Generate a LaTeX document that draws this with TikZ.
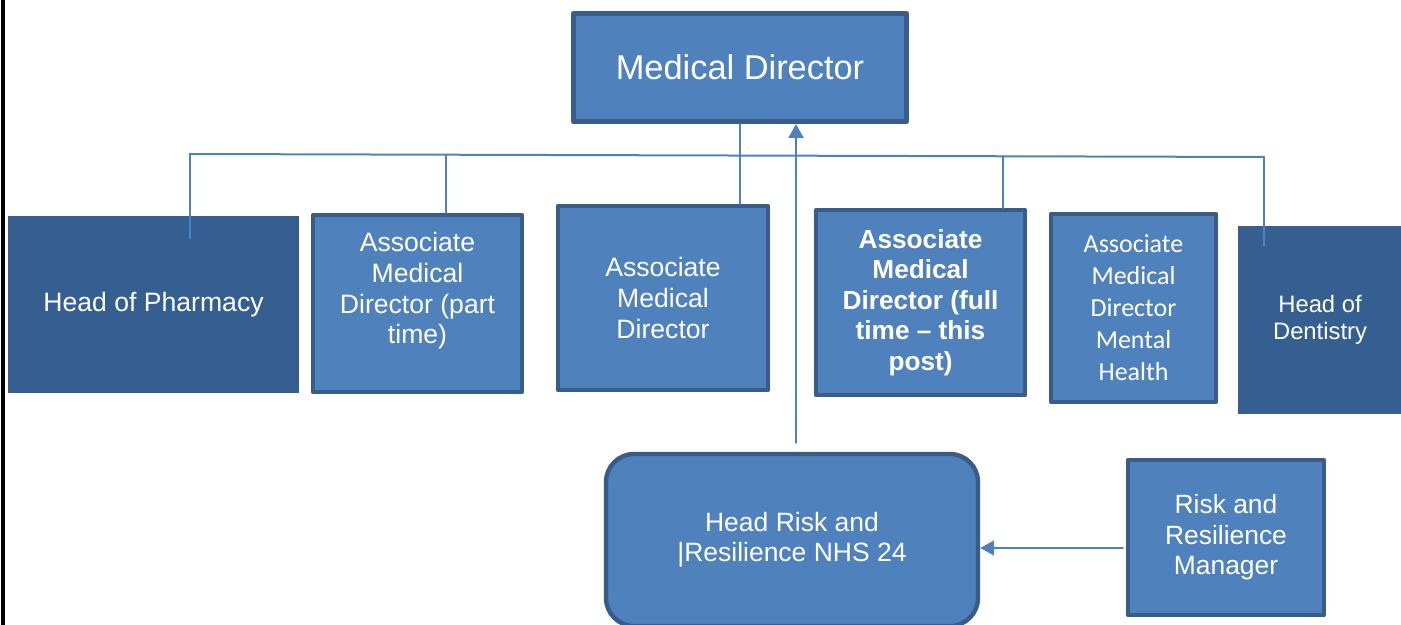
\documentclass[tikz,border=0pt]{standalone}
\usepackage{fontspec}
\setmainfont{Liberation Sans}
\newfontfamily\carlito{Carlito}
\usetikzlibrary{arrows.meta}
\definecolor{boxfill}{HTML}{4F81BD}
\definecolor{boxline}{HTML}{385D8A}
\definecolor{darkfill}{HTML}{365F91}
\tikzset{
  post/.style={draw=boxline,line width=2.2pt,fill=boxfill,text=white,align=center,inner sep=0pt,
    font=\fontsize{13.3}{15.3}\selectfont},
  headpost/.style={post,fill=darkfill,line width=0.8pt},
  link/.style={draw=boxfill,line width=1pt}
}
\begin{document}
\begin{tikzpicture}[line cap=round,line join=round,>={Triangle[width=7.5pt,length=7pt]},x=0.5pt,y=-0.5pt]
\useasboundingbox (0,0) rectangle (1401,625);
\clip (0,0) rectangle (1401,625);
\draw[line width=2pt] (3,0) -- (3,625);
\node[post,line width=2.5pt,minimum width=166.5pt,minimum height=54pt,font=\fontsize{17.2}{20}\selectfont] (md) at (740,67.5) {Medical Director};
\node[headpost,minimum width=145pt,minimum height=88pt] (pharm) at (153.5,304.5) {Head of Pharmacy};
\node[post,minimum width=104.5pt,minimum height=88.5pt] (amdp) at (417.5,303.5) {Associate\\Medical\\Director (part\\time)\\[0pt]\mbox{}};
\node[post,minimum width=105pt,minimum height=92pt] (amd) at (663,298) {Associate\\Medical\\Director};
\node[post,minimum width=104.5pt,minimum height=92.5pt,font=\fontsize{13.1}{15.25}\selectfont\bfseries] (amdf) at (920.5,302.5) {Associate\\Medical\\Director (full\\time -- this\\post)};
\node[post,minimum width=82.5pt,minimum height=94pt,font=\fontsize{13}{16}\carlito] (amdmh) at (1133.5,308) {Associate\\Medical\\Director\\Mental\\Health};
\node[headpost,minimum width=81.5pt,minimum height=93.5pt,font=\fontsize{11.9}{13.5}\selectfont] (dent) at (1320,320) {Head of\\Dentistry};
\node[post,rounded corners=14pt,minimum width=186pt,minimum height=86pt,font=\fontsize{13.25}{15}\selectfont] (hrr) at (792,540) {Head Risk and\\|Resilience NHS 24};
\node[post,minimum width=98pt,minimum height=77.5pt,font=\fontsize{13.2}{15.25}\selectfont] (rrm) at (1226,537.5) {Risk and\\Resilience\\Manager};
\coordinate (busL) at (190,154);
\coordinate (busP) at (446,155);
\coordinate (busF) at (1003,156);
\coordinate (busR) at (1264,157);
\draw[link] (busL) -- (busR);
\draw[link] (busL) -- ([yshift=-11.5pt]busL |- pharm.north);
\draw[link] (busP) -- (busP |- amdp.north);
\draw[link] (md.south) -- (md.south |- amd.north);
\draw[link] (busF) -- (busF |- amdf.north);
\draw[link] (busR) -- ([yshift=-10pt]busR |- dent.north);
\draw[link,->] ([xshift=2pt,yshift=4.5pt]hrr.north) -- ([xshift=28pt]md.south);
\draw[link,->] ([xshift=-1.5pt,yshift=-5.25pt]rrm.west) -- ([yshift=-4pt]hrr.east);
\end{tikzpicture}
\end{document}
